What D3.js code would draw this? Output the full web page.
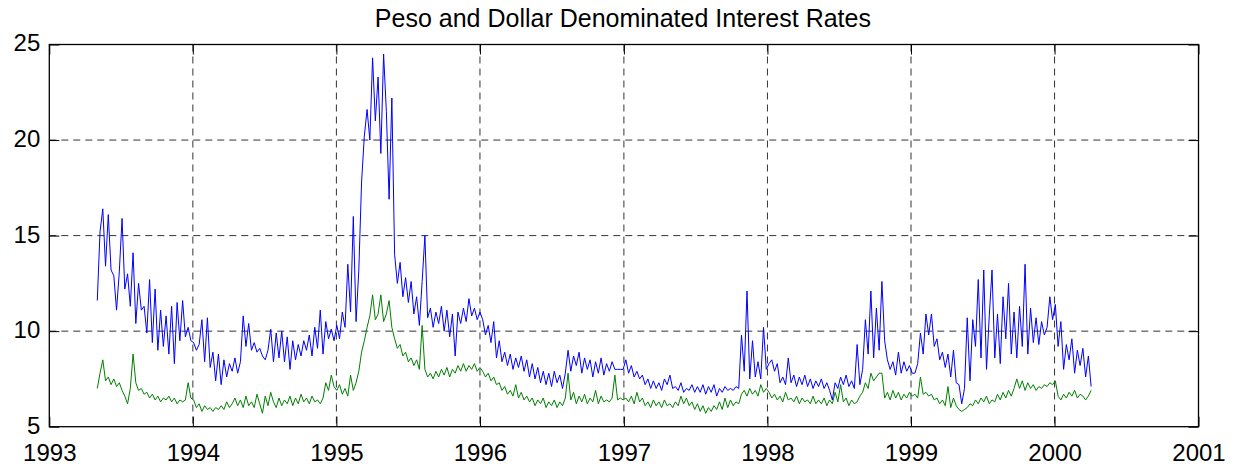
<!DOCTYPE html>
<html>
<head>
<meta charset="utf-8">
<script src="https://cdn.jsdelivr.net/npm/d3@7"></script>
<style>
  html, body { margin: 0; padding: 0; background: #fff; }
  svg { display: block; }
  text { font-family: "Liberation Sans", Arial, Helvetica, sans-serif; }
</style>
</head>
<body>
<script>
const titleText = "Peso and Dollar Denominated Interest Rates";
const firstWeek = "1993-05-03";
const xTickYears = [1993, 1994, 1995, 1996, 1997, 1998, 1999, 2000, 2001];
const yTickValues = [5, 10, 15, 20, 25];

// Peso denominated rate (blue)
const pesoRate = [
  // 1993
  11.6, 15.2, 16.4, 13.4, 16.1, 13.2, 12.9, 11.1, 13.1, 15.9, 12.2, 13.0, 11.3, 14.1, 10.4, 12.5, 11.1, 11.3,
  9.9, 12.7, 9.4, 12.2, 9.0, 11.1, 9.2, 10.8, 8.8, 11.3, 8.3, 11.5, 9.5, 11.6, 9.7, 10.2, 9.5,
  // 1994
  9.4, 9.0, 9.3, 10.6, 8.4, 10.7, 8.1, 8.9, 7.4, 8.8, 7.2, 8.5, 7.6, 8.3, 7.9, 8.6, 7.8, 8.4,
  10.8, 9.2, 10.4, 9.0, 9.4, 8.9, 9.1, 8.7, 8.5, 9.0, 10.1, 8.4, 9.9, 8.6, 10.0, 8.4, 9.7, 8.0,
  9.5, 8.5, 9.3, 8.7, 9.5, 9.0, 9.8, 8.7, 10.2, 9.1, 11.1, 8.8, 10.5, 9.6, 10.1, 9.5,
  // 1995
  10.3, 9.6, 11.0, 10.2, 13.5, 11.0, 16.0, 10.5, 13.2, 17.8, 20.2, 21.6, 20.0, 24.3, 21.0, 23.3, 19.3, 24.5,
  21.5, 16.9, 22.2, 14.0, 12.5, 13.6, 11.8, 12.8, 11.5, 12.6, 10.9, 11.8, 10.3, 12.6, 15.0, 10.7, 11.2, 10.2,
  11.0, 10.4, 11.3, 10.0, 11.1, 9.7, 10.9, 8.7, 11.0, 10.4, 11.2, 10.5, 11.7, 10.8, 11.2, 10.6, 11.0,
  // 1996
  10.6, 9.8, 10.3, 9.4, 10.5, 8.6, 9.5, 8.4, 8.9, 8.2, 8.8, 8.0, 8.6, 8.1, 8.7, 7.9, 8.5, 7.6,
  8.3, 7.5, 8.1, 7.3, 7.9, 7.2, 7.8, 7.1, 7.9, 7.3, 7.7, 7.0, 7.8, 9.0, 7.9, 8.7, 8.2, 8.9,
  7.8, 8.6, 8.0, 8.5, 7.6, 8.4, 7.8, 8.6, 7.7, 8.3, 7.9, 8.4, 8.0, 8.0, 8.0, 8.0,
  // 1997
  8.5, 7.8, 8.2, 7.6, 7.9, 7.5, 7.7, 7.2, 7.5, 7.0, 7.4, 7.0, 7.3, 6.9, 7.5, 7.2, 7.7, 7.0,
  7.1, 6.9, 7.3, 6.8, 7.0, 6.9, 7.2, 6.8, 7.1, 6.8, 7.2, 6.7, 7.1, 6.8, 7.2, 6.6, 7.0, 6.8,
  7.1, 6.9, 7.0, 6.9, 7.1, 7.0, 9.8, 7.9, 12.1, 7.5, 9.5, 7.6, 8.4, 7.5, 10.2, 8.0,
  // 1998
  8.3, 8.5, 7.9, 8.3, 7.3, 7.6, 7.2, 8.6, 7.3, 7.7, 7.1, 7.6, 7.2, 7.7, 7.1, 7.5, 7.0, 7.4,
  7.1, 7.5, 7.0, 7.3, 6.9, 6.4, 7.3, 7.0, 7.6, 7.2, 7.7, 7.1, 7.4, 7.0, 9.3, 7.2, 8.0, 10.6,
  8.8, 12.1, 8.6, 11.2, 9.0, 12.6, 9.5, 8.5, 8.0, 8.4, 7.7, 8.9, 7.8, 8.4, 7.9, 8.2,
  // 1999
  7.8, 7.8, 8.3, 9.9, 8.8, 10.9, 9.8, 10.9, 9.2, 9.6, 8.5, 8.9, 8.1, 8.8, 7.6, 9.0, 7.3, 7.2,
  6.2, 7.0, 10.7, 7.4, 10.6, 9.2, 12.7, 8.6, 13.2, 8.0, 10.8, 13.2, 8.6, 10.9, 8.3, 11.8, 9.6, 12.5,
  8.8, 11.0, 8.6, 11.3, 9.2, 13.5, 8.8, 11.2, 9.4, 10.7, 9.3, 10.5, 9.8, 10.2, 11.8, 10.6,
  // 2000
  11.4, 9.2, 10.5, 8.0, 9.3, 8.5, 9.6, 7.8, 9.0, 8.2, 9.1, 7.6, 8.7, 7.1
];

// Dollar denominated rate (green)
const dollarRate = [
  // 1993
  7.0, 7.8, 8.5, 7.4, 7.6, 7.2, 7.5, 7.1, 7.3, 6.9, 6.6, 6.2, 7.0, 8.8, 7.3, 6.9, 7.0, 6.7,
  6.8, 6.5, 6.7, 6.4, 6.6, 6.3, 6.5, 6.4, 6.6, 6.3, 6.5, 6.2, 6.4, 6.3, 6.4, 7.3, 6.5,
  // 1994
  6.4, 6.0, 6.2, 5.8, 6.1, 5.9, 6.0, 5.8, 6.0, 5.9, 6.1, 5.9, 6.3, 6.0, 6.2, 6.5, 6.1, 6.4,
  6.0, 6.6, 6.1, 6.3, 6.0, 6.7, 6.2, 5.7, 6.6, 6.1, 6.8, 6.3, 6.0, 6.5, 6.1, 6.4, 6.2, 6.6,
  6.1, 6.5, 6.2, 6.7, 6.3, 6.5, 6.2, 6.6, 6.3, 6.4, 6.2, 6.5, 7.3, 6.9, 7.7, 7.1,
  // 1995
  6.9, 7.2, 6.7, 7.0, 6.6, 7.7, 6.9, 7.3, 7.9, 8.9, 9.5, 10.2, 10.8, 11.9, 10.6, 10.9, 11.9, 10.5,
  10.9, 11.6, 10.2, 9.6, 9.1, 9.3, 8.7, 8.9, 8.4, 8.6, 8.2, 8.5, 8.0, 10.3, 8.0, 7.6, 7.8, 7.5,
  7.9, 7.6, 8.0, 7.7, 8.1, 7.6, 8.0, 7.8, 8.2, 7.9, 8.3, 7.9, 8.2, 8.0, 8.3, 7.9, 8.1,
  // 1996
  7.9, 7.6, 7.8, 7.4, 7.6, 7.2, 7.3, 6.9, 7.1, 6.7, 6.9, 6.6, 7.2, 6.5, 6.8, 6.4, 6.6, 6.3,
  6.5, 6.1, 6.4, 6.2, 6.5, 6.0, 6.3, 6.1, 6.4, 6.0, 6.3, 6.1, 6.5, 7.8, 6.4, 6.8, 6.2, 6.6,
  6.3, 6.7, 6.2, 6.5, 6.3, 6.9, 6.2, 6.6, 6.3, 6.4, 6.3, 6.5, 7.7, 6.4, 6.5, 6.4,
  // 1997
  6.5, 6.3, 6.6, 6.2, 6.8, 6.3, 6.5, 6.1, 6.3, 6.0, 6.4, 6.1, 6.3, 6.0, 6.4, 6.1, 6.2, 6.0,
  6.3, 6.1, 6.6, 6.2, 6.5, 6.1, 6.3, 5.9, 6.2, 5.8, 6.1, 5.7, 6.0, 5.8, 6.1, 5.9, 6.3, 5.9,
  6.5, 6.0, 6.4, 6.1, 6.3, 6.2, 6.7, 6.9, 6.6, 7.0, 6.7, 6.9, 6.6, 7.2, 6.8, 7.0,
  // 1998
  6.8, 6.5, 6.7, 6.4, 6.6, 6.3, 6.8, 6.4, 6.5, 6.3, 6.6, 6.2, 6.5, 6.3, 6.4, 6.2, 6.6, 6.2,
  6.4, 6.2, 6.5, 6.1, 6.4, 6.2, 6.8, 6.3, 7.2, 6.3, 6.5, 6.1, 6.4, 6.2, 6.3, 6.6, 6.8, 7.3,
  7.0, 7.8, 7.4, 7.6, 7.8, 7.8, 6.5, 6.8, 6.4, 6.9, 6.5, 6.8, 6.4, 6.7, 6.5, 6.8,
  // 1999
  6.6, 6.7, 6.5, 7.6, 6.7, 6.8, 6.6, 6.7, 6.4, 6.5, 6.2, 6.4, 6.1, 7.1, 6.0, 6.5, 6.1, 5.9,
  5.8, 5.9, 6.0, 6.2, 6.1, 6.4, 6.2, 6.5, 6.3, 6.6, 6.2, 6.4, 6.3, 6.7, 6.4, 6.8, 6.5, 6.9,
  6.6, 7.0, 7.5, 7.0, 7.4, 6.9, 7.3, 7.0, 7.2, 6.9, 7.1, 7.0, 7.2, 7.1, 7.3, 7.2,
  // 2000
  7.4, 6.6, 6.4, 6.7, 6.5, 6.8, 6.6, 6.9, 6.5, 6.7, 6.6, 6.4, 6.6, 6.9
];

// ---------------- CHART ----------------
const W = 1241, H = 468;
const margin = { left: 49.3, right: W - 1198.5, top: 44.5, bottom: H - 426.7 };
const svg = d3.select("body").append("svg").attr("width", W).attr("height", H);
svg.append("rect").attr("width", W).attr("height", H).attr("fill", "#fff");

const x = d3.scaleTime()
  .domain([new Date(xTickYears[0], 0, 1), new Date(xTickYears[xTickYears.length - 1], 0, 1)])
  .range([margin.left, W - margin.right]);
const y = d3.scaleLinear().domain([5, 25]).range([H - margin.bottom, margin.top]);

const start = d3.timeParse("%Y-%m-%d")(firstWeek);
const dateOf = i => d3.timeDay.offset(start, 7 * i);
const tickDates = xTickYears.map(yr => new Date(yr, 0, 1));

// grid
const grid = svg.append("g").attr("stroke", "#333").attr("stroke-width", 1)
  .attr("stroke-dasharray", "7,5").attr("fill", "none");
tickDates.slice(1, -1).forEach(d => {
  grid.append("line").attr("x1", x(d)).attr("x2", x(d))
    .attr("y1", y(25)).attr("y2", y(5));
});
yTickValues.slice(1, -1).forEach(v => {
  grid.append("line").attr("x1", x.range()[0]).attr("x2", x.range()[1])
    .attr("y1", y(v)).attr("y2", y(v));
});

// lines
const line = d3.line().x((d, i) => x(dateOf(i))).y(d => y(d));
svg.append("path").datum(dollarRate).attr("d", line)
  .attr("fill", "none").attr("stroke", "#008000").attr("stroke-width", 1);
svg.append("path").datum(pesoRate).attr("d", line)
  .attr("fill", "none").attr("stroke", "#0000ff").attr("stroke-width", 1);

// axes
const fontSize = 24;
const xb = svg.append("g").attr("transform", `translate(0,${y(5)})`)
  .call(d3.axisBottom(x).tickValues(tickDates).tickFormat(d3.timeFormat("%Y"))
    .tickSizeInner(-10).tickSizeOuter(0).tickPadding(16.8));
const xt = svg.append("g").attr("transform", `translate(0,${y(25)})`)
  .call(d3.axisTop(x).tickValues(tickDates).tickFormat("").tickSizeInner(-10).tickSizeOuter(0));
const yl = svg.append("g").attr("transform", `translate(${x.range()[0]},0)`)
  .call(d3.axisLeft(y).tickValues(yTickValues).tickFormat(d3.format("d"))
    .tickSizeInner(-10).tickSizeOuter(0).tickPadding(9));
const yr = svg.append("g").attr("transform", `translate(${x.range()[1]},0)`)
  .call(d3.axisRight(y).tickValues(yTickValues).tickFormat("").tickSizeInner(-10).tickSizeOuter(0));

[xb, xt, yl, yr].forEach(g => {
  g.select(".domain").remove();
  g.selectAll(".tick line").attr("stroke", "#000").attr("stroke-width", 1);
  g.selectAll("text").attr("font-size", fontSize).attr("fill", "#000")
    .attr("font-family", '"Liberation Sans", Arial, sans-serif');
});
yl.selectAll("text").attr("dy", "0.27em");

// box
svg.append("rect")
  .attr("x", x.range()[0]).attr("y", y(25))
  .attr("width", x.range()[1] - x.range()[0]).attr("height", y(5) - y(25))
  .attr("fill", "none").attr("stroke", "#000").attr("stroke-width", 1.3);

// title
svg.append("text").attr("x", (x.range()[0] + x.range()[1]) / 2 - 1).attr("y", 27)
  .attr("text-anchor", "middle").attr("font-size", 25).attr("fill", "#000")
  .text(titleText);
</script>
</body>
</html>
